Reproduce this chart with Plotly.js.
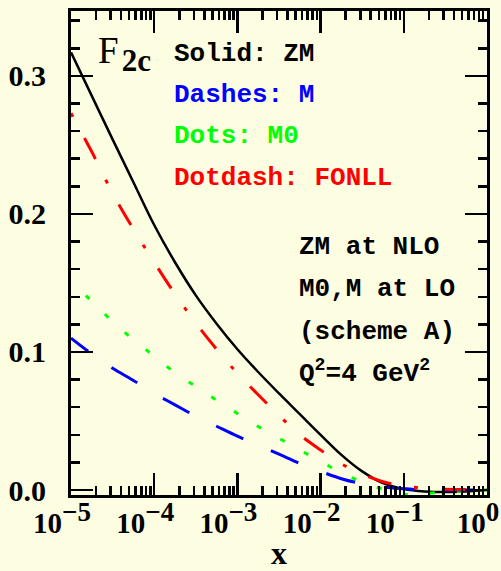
<!DOCTYPE html>
<html>
<head>
<meta charset="utf-8">
<script src="https://cdn.plot.ly/plotly-3.0.1.min.js"></script>
<style>html,body{margin:0;padding:0;background:#fdfde2;}</style>
</head>
<body>
<div id="chart" style="width:501px;height:571px;"></div>
<script>
// x values (quarter-decade steps)
const xValues = [1e-5, 1.778e-5, 3.162e-5, 5.623e-5, 1e-4, 1.778e-4, 3.162e-4, 5.623e-4,
  1e-3, 1.778e-3, 3.162e-3, 5.623e-3, 1e-2, 1.778e-2, 3.162e-2, 5.623e-2,
  0.1, 0.1778, 0.3162, 0.5623, 1];
// Solid: ZM
const zmValues = [0.317, 0.2855, 0.254, 0.223, 0.192, 0.165, 0.141, 0.1205, 0.102, 0.0855, 0.070,
  0.055, 0.040, 0.0255, 0.0135, 0.005, 0.0008, -0.001, -0.0015, -0.001, 0.0];
// Dashes: M
const mValues = [0.110, 0.0985, 0.0882, 0.0794, 0.070, 0.0617, 0.0535, 0.0462, 0.039, 0.0325,
  0.026, 0.0193, 0.0135, 0.0082, 0.0045, 0.0022, 0.001, 0.0001, 0.0, 0.0, 0.0];
// Dots: M0
const m0Values = [0.150, 0.137, 0.122, 0.109, 0.097, 0.085, 0.075, 0.065, 0.0555, 0.046,
  0.0375, 0.029, 0.0207, 0.0126, 0.0058, 0.0006, -0.003, -0.0025, -0.0015, -0.0008, 0.0];
// Dotdash: FONLL
const fonllValues = [0.273, 0.245, 0.215, 0.189, 0.165, 0.142, 0.121, 0.102, 0.0845, 0.069,
  0.054, 0.040, 0.029, 0.019, 0.0115, 0.006, 0.003, 0.0012, 0.0005, 0.0003, 0.0003];

const yTickVals = [0, 0.1, 0.2, 0.3];
const yTickText = ['0.0', '0.1', '0.2', '0.3'];
const xTickVals = [1e-5, 1e-4, 1e-3, 1e-2, 1e-1, 1];
const xTickExps = ['−5', '−4', '−3', '−2', '−1', '0'];
const legendLines = ['Solid: ZM', 'Dashes: M', 'Dots: M0', 'Dotdash: FONLL'];
const legendColors = ['#000000', '#0000ff', '#00ff00', '#ff0000'];
const infoLines = ['ZM at NLO', 'M0,M at LO', '(scheme A)', 'Q<sup>2</sup>=4 GeV<sup>2</sup>'];

const xTickText = xTickExps.map(e => '10<sup><span style="font-size:27px">' + e + '</span></sup>');

const minorX = [];
for (let d = -5; d < 0; d++) for (let k = 2; k <= 9; k++) minorX.push(k * Math.pow(10, d));

// dash patterns (style only)
const rep = (s, n) => Array(n).fill(s).join(',');
const dashM = '21px,29px,' + rep('30px,30px', 14);
const dotM0 = '0px,19px,' + rep('5px,22px', 24);
const dashFONLL = rep('4px,24px,24px,23px', 10);

const L = 71, R = 487, T = 11, B = 495;
const px2x = p => (p - L) / (R - L);
const py2y = p => (B - p) / (B - T);

const traces = [
  {x: xValues, y: zmValues, mode: 'lines', line: {color: '#000000', width: 2.5, shape: 'spline'}},
  {x: xValues, y: m0Values, mode: 'lines', line: {color: '#00ff00', width: 3, shape: 'spline', dash: dotM0}},
  {x: xValues, y: mValues, mode: 'lines', line: {color: '#0000ff', width: 3, shape: 'spline', dash: dashM}},
  {x: xValues, y: fonllValues, mode: 'lines', line: {color: '#ff0000', width: 3, shape: 'spline', dash: dashFONLL}}
];

const annotations = [];
const legY = [54, 95, 136, 178];
legendLines.forEach((t, i) => annotations.push({
  text: t, xref: 'paper', yref: 'paper', x: px2x(172), y: py2y(legY[i]),
  xanchor: 'left', yanchor: 'middle', showarrow: false,
  font: {family: 'Liberation Mono', size: 26, weight: 'bold', color: legendColors[i]}
}));
const infoY = [247, 289, 332, 372];
infoLines.forEach((t, i) => annotations.push({
  text: t, xref: 'paper', yref: 'paper', x: px2x(297), y: py2y(infoY[i]),
  xanchor: 'left', yanchor: 'middle', showarrow: false,
  font: {family: 'Liberation Mono', size: 26, weight: 'bold', color: '#000000'}
}));
annotations.push({
  text: 'F<sub><span style="font-size:13px"> </span><span style="font-size:31px;font-weight:bold">2c</span></sub>',
  xref: 'paper', yref: 'paper', x: px2x(96), y: py2y(54),
  xanchor: 'left', yanchor: 'middle', showarrow: false,
  font: {family: 'Liberation Serif', size: 37, color: '#000000'}
});

const axisCommon = {
  showline: true, linewidth: 3, linecolor: '#000000', mirror: 'allticks',
  ticks: 'inside', ticklen: 22, tickwidth: 2.5, tickcolor: '#000000',
  showgrid: false, zeroline: false, tickmode: 'array'
};

const layout = {
  width: 501, height: 571,
  margin: {l: L, r: 501 - R, t: T, b: 571 - B, pad: 0},
  paper_bgcolor: '#fdfde2', plot_bgcolor: '#fdfde2',
  showlegend: false,
  xaxis: Object.assign({}, axisCommon, {
    type: 'log', range: [-5, 0], tickvals: xTickVals, ticktext: xTickText,
    tickfont: {family: 'Liberation Serif', size: 29, weight: 'bold', color: '#000000'},
    ticklabeloverflow: 'allow', ticklabelshift: -9,
    minor: {tickmode: 'array', tickvals: minorX, ticks: 'inside', ticklen: 9, tickwidth: 2.5, tickcolor: '#000000', showgrid: false},
    title: {text: 'x', font: {family: 'Liberation Serif', size: 32, weight: 'bold', color: '#000000'}, standoff: 14}
  }),
  yaxis: Object.assign({}, axisCommon, {
    range: [-0.0036, 0.347], tickvals: yTickVals, ticktext: yTickText,
    tickfont: {family: 'Liberation Serif', size: 30, weight: 'bold', color: '#000000'},
    ticklabelstandoff: 16,
    minor: {tickmode: 'linear', tick0: 0, dtick: 0.02, ticks: 'inside', ticklen: 9, tickwidth: 2.5, tickcolor: '#000000', showgrid: false}
  }),
  annotations: annotations
};

Plotly.newPlot('chart', traces, layout, {staticPlot: true, displayModeBar: false});
</script>
</body>
</html>
